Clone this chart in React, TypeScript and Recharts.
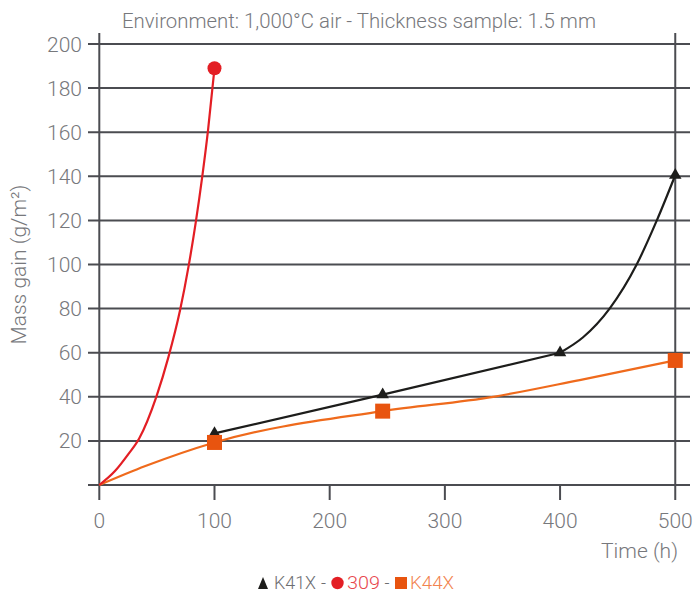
import React from 'react';
import { ComposedChart, Line, Scatter, XAxis, YAxis, ReferenceLine } from 'recharts';

// ---- data ----
const xTicks = [0, 100, 200, 300, 400, 500];
const yTicks = [20, 40, 60, 80, 100, 120, 140, 160, 180, 200];
const gridValues = [0, 20, 40, 60, 80, 100, 120, 140, 160, 180, 200];
const minorXTicks = [100, 200, 300, 400];
const frameX = [0, 500];

const curve309 = [
  { t: 0, m: 0 }, { t: 13.6, m: 6.3 }, { t: 25.2, m: 14 }, { t: 34.5, m: 21 },
  { t: 49.5, m: 40 }, { t: 60, m: 58 }, { t: 70, m: 79 }, { t: 77.6, m: 99.5 },
  { t: 83.7, m: 119 }, { t: 89.4, m: 140 }, { t: 94.4, m: 161 }, { t: 100, m: 189 },
];
const points309 = [{ t: 100, m: 189 }];

// K41X: straight segments up to 400 h, then a rising curve to 500 h
const segK41X = [{ t: 100, m: 23.4 }, { t: 246, m: 41 }, { t: 400, m: 60 }];
const curveK41X = [
  { t: 400, m: 60 }, { t: 420, m: 67 }, { t: 443, m: 80 }, { t: 466.5, m: 100 },
  { t: 484, m: 120 }, { t: 500, m: 140.5 },
];
const pointsK41X = [{ t: 100, m: 23.4 }, { t: 246, m: 41 }, { t: 400, m: 60 }, { t: 500, m: 140.5 }];

const curveK44X = [
  { t: 0, m: 0 }, { t: 40, m: 8.6 }, { t: 100, m: 19.3 }, { t: 246, m: 33.5 },
  { t: 342, m: 40 }, { t: 417, m: 47.6 }, { t: 500, m: 56.5 },
];
const pointsK44X = [{ t: 100, m: 19.3 }, { t: 246, m: 33.5 }, { t: 500, m: 56.5 }];

const title = 'Environment: 1,000°C air - Thickness sample: 1.5 mm';
const xLabel = 'Time (h)';
const yLabel = 'Mass gain (g/m²)';
const legendNames = ['K41X', '309', 'K44X'];

// ---- styles ----
const FONT = 'Roboto, "Open Sans", sans-serif';
const TEXT = '#77787c';
const GRID = '#4b4c51';
const RED = '#e31e24';
const BLACK = '#1d1d1b';
const ORANGE_LINE = '#ef6a1c';
const ORANGE = '#e8540f';

const XTick = (props: any) => {
  const { x, y, payload } = props;
  return (
    <text x={x} y={y + 28} textAnchor="middle" fontSize={21} fontWeight={300} fill={TEXT} fontFamily={FONT}>
      {payload.value}
    </text>
  );
};

const YTick = (props: any) => {
  const { x, y, payload } = props;
  return (
    <text x={x - 6} y={y + 7.5} textAnchor="end" fontSize={21} fontWeight={300} fill={TEXT} fontFamily={FONT}>
      {payload.value}
    </text>
  );
};

const Triangle = (props: any) => {
  const { cx, cy } = props;
  const r = 3.6;
  return <polygon points={`${cx},${cy - 2 * r} ${cx - 1.732 * r},${cy + r} ${cx + 1.732 * r},${cy + r}`} fill={BLACK} />;
};
const Circle = (props: any) => <circle cx={props.cx} cy={props.cy} r={7} fill={RED} />;
const Square = (props: any) => <rect x={props.cx - 7.5} y={props.cy - 7.5} width={15} height={15} fill={ORANGE} />;

export default function App() {
  return (
    <div style={{ position: 'absolute', left: 0, top: 0, width: 699, height: 595, background: '#fff' }}>
      <ComposedChart width={699} height={595} margin={{ top: 33, right: 9, bottom: 65, left: 28 }}>
        <XAxis
          type="number"
          dataKey="t"
          domain={[-9.81, 512.8]}
          ticks={xTicks}
          allowDataOverflow
          axisLine={false}
          tickLine={false}
          tickSize={0}
          tickMargin={0}
          height={30}
          tick={<XTick />}
          interval={0}
        />
        <YAxis
          type="number"
          dataKey="m"
          domain={[-6.8, 205]}
          ticks={yTicks}
          allowDataOverflow
          axisLine={false}
          tickLine={false}
          tickSize={0}
          tickMargin={0}
          width={60}
          tick={<YTick />}
          interval={0}
        />
        {gridValues.map((v) => (
          <ReferenceLine key={'h' + v} y={v} stroke={GRID} strokeWidth={2} />
        ))}
        {frameX.map((v) => (
          <ReferenceLine key={'v' + v} x={v} stroke={GRID} strokeWidth={2} />
        ))}
        {minorXTicks.map((v) => (
          <ReferenceLine key={'t' + v} segment={[{ x: v, y: -6.8 }, { x: v, y: 0 }]} stroke={GRID} strokeWidth={2} />
        ))}
        <Line data={curveK44X} dataKey="m" type="monotone" stroke={ORANGE_LINE} strokeWidth={2.2} dot={false} isAnimationActive={false} />
        <Line data={segK41X} dataKey="m" type="linear" stroke={BLACK} strokeWidth={2.2} dot={false} isAnimationActive={false} />
        <Line data={curveK41X} dataKey="m" type="monotone" stroke={BLACK} strokeWidth={2.2} dot={false} isAnimationActive={false} />
        <Line data={curve309} dataKey="m" type="monotone" stroke={RED} strokeWidth={2.2} dot={false} isAnimationActive={false} />
        <Scatter data={pointsK41X} dataKey="m" shape={<Triangle />} isAnimationActive={false} />
        <Scatter data={points309} dataKey="m" shape={<Circle />} isAnimationActive={false} />
        <Scatter data={pointsK44X} dataKey="m" shape={<Square />} isAnimationActive={false} />
      </ComposedChart>
      <svg width={699} height={595} style={{ position: 'absolute', left: 0, top: 0, pointerEvents: 'none' }}>
        <text x={122} y={28} fontSize={21} fontWeight={300} fill={TEXT} fontFamily={FONT} textLength={474} lengthAdjust="spacingAndGlyphs">
          {title}
        </text>
        <text x={678} y={558} textAnchor="end" fontSize={21} fontWeight={300} fill={TEXT} fontFamily={FONT}>
          {xLabel}
        </text>
        <text
          x={26}
          y={264.5}
          textAnchor="middle"
          fontSize={21}
          fontWeight={300}
          fill={TEXT}
          fontFamily={FONT}
          transform="rotate(-90, 26, 264.5)"
        >
          {yLabel}
        </text>
        <g fontFamily={FONT} fontSize={17.5} fontWeight={300}>
          <polygon points="258,589 263,577 268,589" fill={BLACK} />
          <text x={274} y={589} fill="#6d6e71" textLength={42} lengthAdjust="spacingAndGlyphs">{legendNames[0]}</text>
          <text x={321} y={589} fill="#6d6e71">-</text>
          <circle cx={337.5} cy={583} r={6.2} fill={RED} />
          <text x={347} y={589} fill="#e8474c" textLength={33} lengthAdjust="spacingAndGlyphs">{legendNames[1]}</text>
          <text x={384.5} y={589} fill="#6d6e71">-</text>
          <rect x={395} y={577} width={12} height={12} fill={ORANGE} />
          <text x={410} y={589} fill="#f2834f" textLength={44} lengthAdjust="spacingAndGlyphs">{legendNames[2]}</text>
        </g>
      </svg>
    </div>
  );
}
